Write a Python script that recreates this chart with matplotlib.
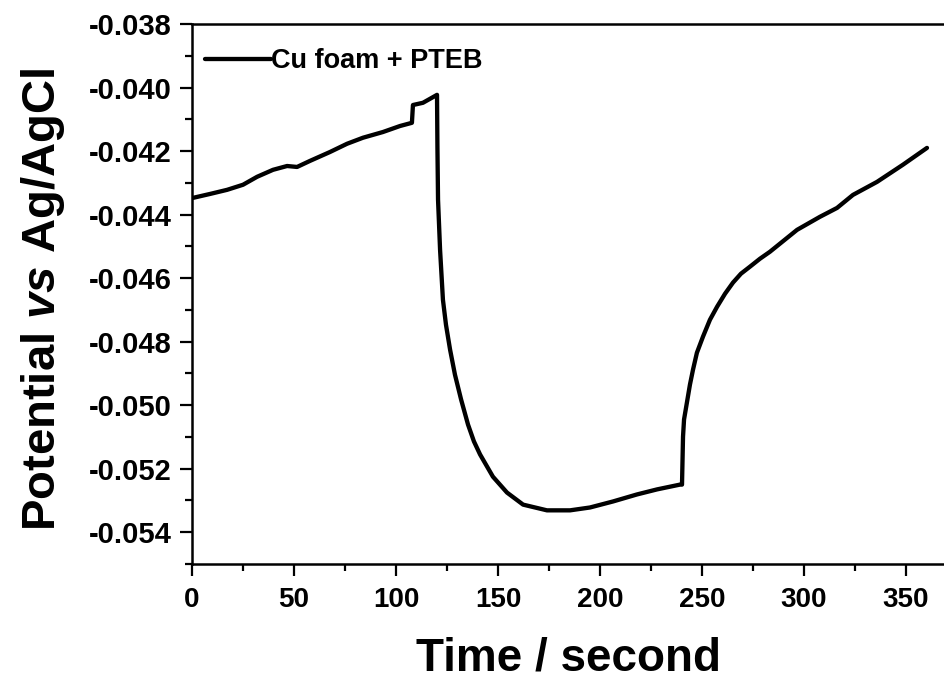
import numpy as np
import matplotlib
matplotlib.use('Agg')
import matplotlib.pyplot as plt
from matplotlib.ticker import MultipleLocator, FormatStrFormatter

plt.rcParams['font.family'] = ['Liberation Sans', 'DejaVu Sans']
plt.rcParams['font.weight'] = 'bold'
plt.rcParams['mathtext.fontset'] = 'custom'
plt.rcParams['mathtext.bfit'] = 'Liberation Sans:italic:bold'
plt.rcParams['mathtext.rm'] = 'Liberation Sans:bold'

# values
time = [0, 8.8, 17.2, 25, 31.9, 39.7, 46.6, 51.5, 57.8, 67.6, 76, 83.8, 93.6,
        102, 107.8, 108.3, 113.2, 120.1,
        120.3, 120.6, 121.6, 123.0, 124.5, 126.5, 128.9, 131.9, 135.3, 138.2,
        141.2, 147.5, 154.4, 162.3, 174.0, 185.3, 195.1, 206.4, 218.1, 228.0,
        239.2, 240.2,
        240.7, 241.2, 242.6, 244.1, 245.6, 247.5, 250.5, 253.9, 257.4, 261.3,
        265.2, 269.1, 273.5, 278.4, 283.3, 296.6, 307.8, 316.2, 324.0, 335.8,
        348.5, 360.3]
potential = [-0.04348, -0.04335, -0.04322, -0.04306, -0.04281, -0.04259,
             -0.04247, -0.04250, -0.04231, -0.04203, -0.04177, -0.04158,
             -0.04140, -0.04121, -0.04111, -0.04055, -0.04048, -0.04023,
             -0.04187, -0.04353, -0.04511, -0.04668, -0.04747, -0.04825,
             -0.04904, -0.04982, -0.05061, -0.05114, -0.05155, -0.05225,
             -0.05275, -0.05313, -0.05331, -0.05331, -0.05322, -0.05303,
             -0.05281, -0.05265, -0.05250, -0.05250,
             -0.05099, -0.05045, -0.04992, -0.04935, -0.04888, -0.04835,
             -0.04784, -0.04731, -0.04690, -0.04649, -0.04614, -0.04586,
             -0.04564, -0.04539, -0.04517, -0.04448, -0.04407, -0.04379,
             -0.04338, -0.04297, -0.04243, -0.04190]
series_label = 'Cu foam + PTEB'

fig = plt.figure(figsize=(9.45, 6.86), dpi=100)
ax = fig.add_axes([0.2032, 0.1778, 0.803, 0.7872])

ax.plot(time, potential, color='black', lw=3.1, label=series_label,
        solid_joinstyle='round', solid_capstyle='round')

ax.set_xlim(0, 372)
ax.set_ylim(-0.055, -0.038)
ax.xaxis.set_major_locator(MultipleLocator(50))
ax.xaxis.set_minor_locator(MultipleLocator(25))
ax.yaxis.set_major_locator(MultipleLocator(0.002))
ax.yaxis.set_minor_locator(MultipleLocator(0.001))
ax.yaxis.set_major_formatter(FormatStrFormatter('%.3f'))

for s in ['top', 'bottom', 'left']:
    ax.spines[s].set_linewidth(1.8)
ax.spines['right'].set_visible(False)
ax.tick_params(which='major', direction='out', length=8.5, width=1.6)
ax.tick_params(which='minor', direction='out', length=5, width=1.6)
ax.tick_params(axis='x', which='major', labelsize=20, pad=8)
ax.tick_params(axis='y', which='major', labelsize=21, pad=6)
ax.tick_params(top=False, right=False, which='both')

fig.text(43/945, 0.564, r'Potential $\mathbfit{vs}$ Ag/AgCl', rotation=90,
         ha='center', va='center', fontsize=34, fontweight='bold')
fig.text(569/945, 0.04, 'Time / second', ha='center', va='center',
         fontsize=33, fontweight='bold')

ax.legend(loc='upper left', bbox_to_anchor=(0.017, 0.955), frameon=False,
          fontsize=19.5, handlelength=2.45, handletextpad=0.0,
          borderaxespad=0, borderpad=0)

fig.savefig('out.png', dpi=100)
